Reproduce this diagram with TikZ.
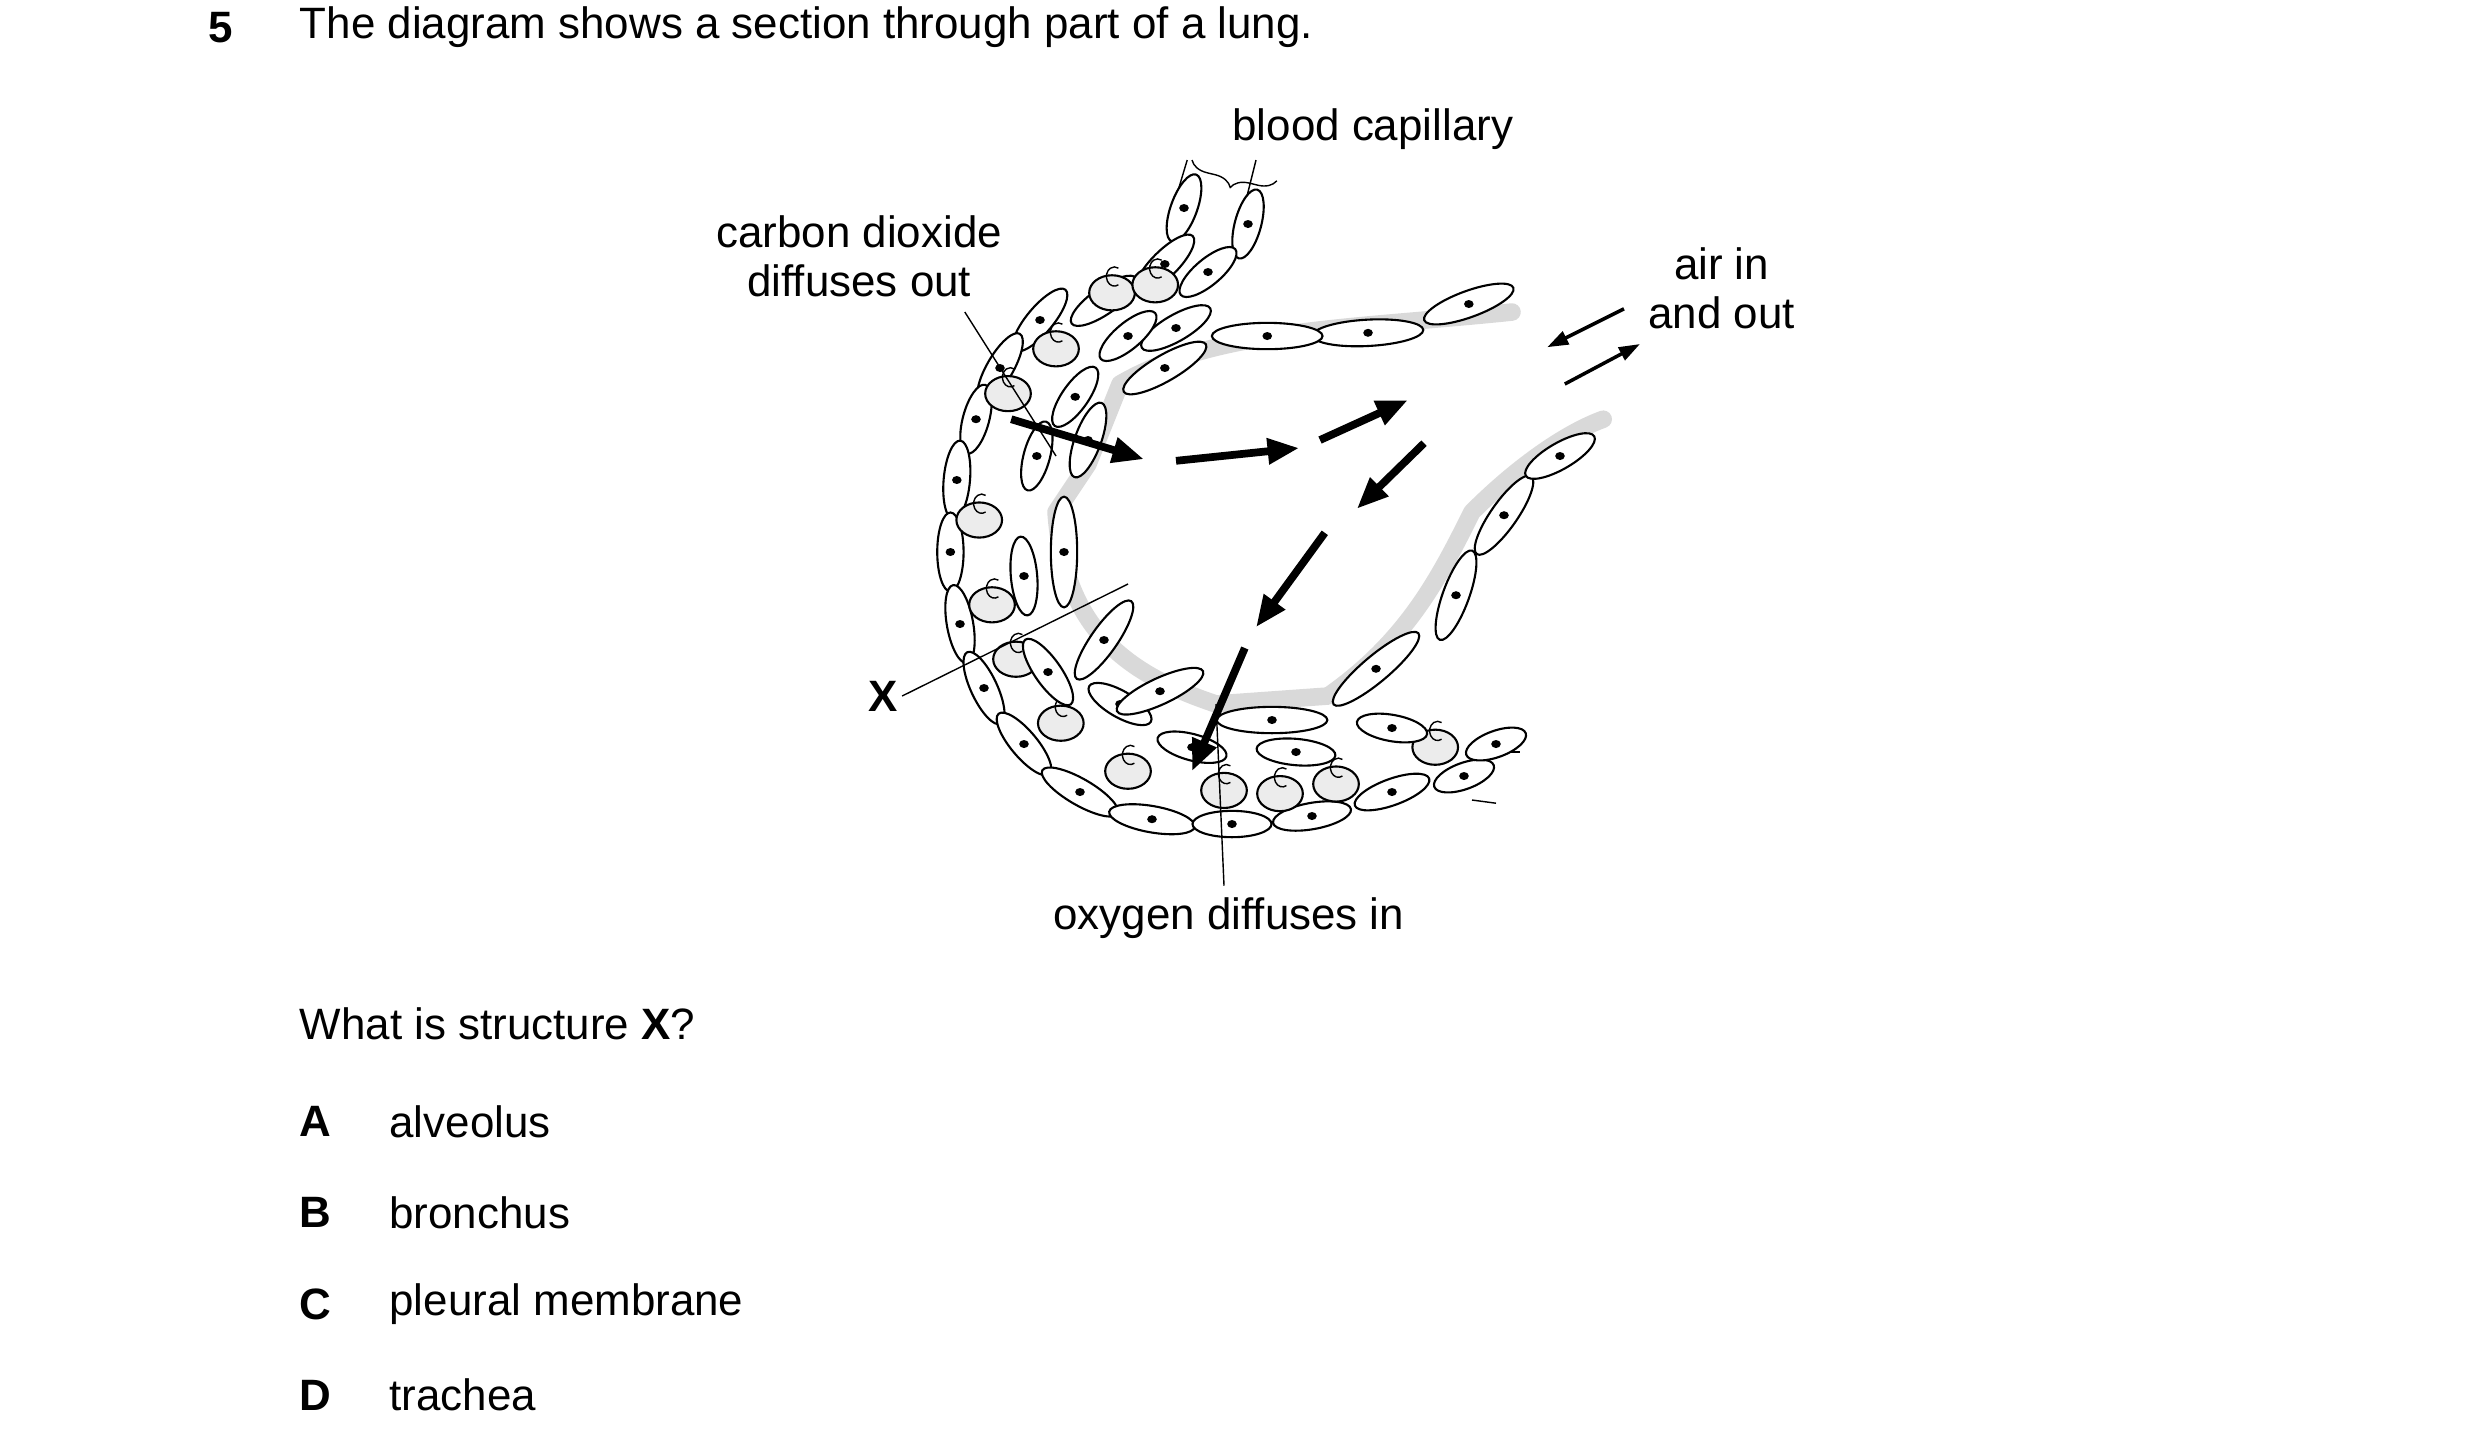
\documentclass[tikz,border=0pt]{standalone}
\usepackage{fontspec}
\setmainfont{Liberation Sans}
\usetikzlibrary{decorations.pathreplacing,arrows.meta,shapes.geometric,calc}
\begin{document}
\begin{tikzpicture}[x=0.016cm,y=-0.016cm,
  cell/.style={draw,ellipse,line width=0.6pt,fill=white,inner sep=0pt,minimum height=7.5pt},
  rbc/.style={draw,ellipse,line width=0.6pt,fill=gray!15,inner sep=0pt,minimum width=13pt,minimum height=10pt},
  lbl/.style={font=\fontsize{12.5}{14}\selectfont,align=center,inner sep=1pt},
  big/.style={line width=2.2pt,-{Triangle[length=9pt,width=7pt]}},
  txt/.style={font=\fontsize{12.5}{15}\selectfont,anchor=west,inner sep=0pt}]
\useasboundingbox (0,0) rectangle (1550,904);
% grey alveolar lining
\draw[gray!30,line width=5pt,line cap=round,line join=round] (945,195) .. controls (850,205) and (760,205) .. (700,240) -- (680,290) -- (660,320) .. controls (665,390) and (700,420) .. (760,440) -- (830,435) .. controls (880,400) and (900,360) .. (920,320) .. controls (950,290) and (980,270) .. (1002,262);
% capillary tube walls
\draw (733,130) -- (742,100); \draw (775,140) -- (785,100);
\draw (935,470) -- (950,470); \draw (920,500) -- (935,502);
% outer capillary cells
\foreach \x/\y/\a/\l in {740/130/70/45, 780/140/75/45, 728/165/45/50, 690/188/35/50, 650/200/50/50, 625/230/60/50, 610/262/75/45, 598/300/85/50, 594/345/90/50, 600/390/100/50, 615/430/115/50, 640/465/130/50, 675/495/150/55, 720/512/170/55, 770/515/180/50, 820/510/190/50, 870/495/200/50, 915/485/200/40, 935/465/20/40, 755/170/40/45, 735/205/30/50}
  {\node[cell,rotate=\a,minimum width=\l*0.45pt] at (\x,\y) {}; \fill (\x,\y) ellipse (3 and 2.5);}
% red blood cells
\foreach \x/\y in {695/183, 722/178, 660/218, 630/246, 612/325, 620/378, 635/412, 663/452, 705/482, 765/494, 800/496, 835/490, 897/467}
  {\node[rbc] at (\x,\y) {}; \draw ($(\x,\y)+(4,-5)$) arc (60:300:5 and 6);}
% inner capillary cells
\foreach \x/\y/\a/\l in {705/210/-40/45, 672/248/-55/45, 648/285/-75/45, 640/360/-95/50, 655/420/-125/50, 700/440/-150/45, 745/467/-165/45, 810/470/-175/50, 870/455/-170/45}
  {\node[cell,rotate=-\a,minimum width=\l*0.45pt] at (\x,\y) {}; \fill (\x,\y) ellipse (3 and 2.5);}
% alveolar lining cells
\foreach \x/\y/\a/\l in {918/190/-20/60, 855/208/-3/70, 792/210/0/70, 728/230/-30/60, 680/275/-70/50, 665/345/-90/70, 690/400/-55/60, 725/432/-25/60, 795/450/0/70, 860/418/-40/70, 910/372/-70/60, 940/322/-55/60, 975/285/-30/50}
  {\node[cell,rotate=-\a,minimum width=\l*0.45pt] at (\x,\y) {}; \fill (\x,\y) ellipse (3 and 2.5);}
% diffusion arrows
\coordinate (c1) at (632,262); \coordinate (c2) at (715,287);
\coordinate (c3) at (735,288); \coordinate (c4) at (812,280);
\coordinate (c5) at (825,275); \coordinate (c6) at (880,250);
\draw[big] (c1) -- (c2); \draw[big] (c3) -- (c4); \draw[big] (c5) -- (c6);
\coordinate (o1) at (890,277); \coordinate (o2) at (848,318);
\coordinate (o3) at (828,333); \coordinate (o4) at (785,392);
\coordinate (o5) at (778,405); \coordinate (o6) at (745,482);
\draw[big] (o1) -- (o2); \draw[big] (o3) -- (o4); \draw[big] (o5) -- (o6);
% air arrows
\coordinate (a1) at (1015,193); \coordinate (a2) at (967,217);
\coordinate (a3) at (978,240); \coordinate (a4) at (1025,215);
\draw[line width=1pt,-{Triangle[length=6pt,width=4pt]}] (a1) -- (a2);
\draw[line width=1pt,-{Triangle[length=6pt,width=4pt]}] (a3) -- (a4);
% labels
\node[font=\bfseries\fontsize{12.5}{15}\selectfont,anchor=west,inner sep=0pt] (q) at (130,17) {5};
\node[txt] (qt) at (187,17) {The diagram shows a section through part of a lung.};
\node[lbl] (cap) at (858,81) {blood capillary};
\draw[decorate,decoration={brace,amplitude=5pt}] (798,113) -- (745,100);
\node[lbl] (co2) at (537,160) {carbon dioxide\\diffuses out};
\coordinate (co2e) at (660,285);
\draw (603,195) -- (co2e);
\node[lbl] (air) at (1076,180) {air in\\and out};
\node[font=\bfseries\fontsize{12.5}{15}\selectfont,inner sep=1pt] (X) at (552,435) {X};
\coordinate (xe) at (705,365);
\draw (X.east) -- (xe);
\node[lbl] (oxy) at (768,574) {oxygen diffuses in};
\coordinate (oe) at (760,440);
\draw (oxy.north) ++(-3,-5) -- (oe);
\node[txt] (w) at (187,640) {What is structure \textbf{X}?};
\foreach \L/\t/\y in {A/alveolus/701, B/bronchus/758, C/pleural membrane/815, D/trachea/872}{
  \node[txt,font=\bfseries\fontsize{12.5}{15}\selectfont] (l\L) at (187,\y) {\L};
  \node[txt] (t\L) at (243,\y) {\t};}
\end{tikzpicture}
\end{document}
